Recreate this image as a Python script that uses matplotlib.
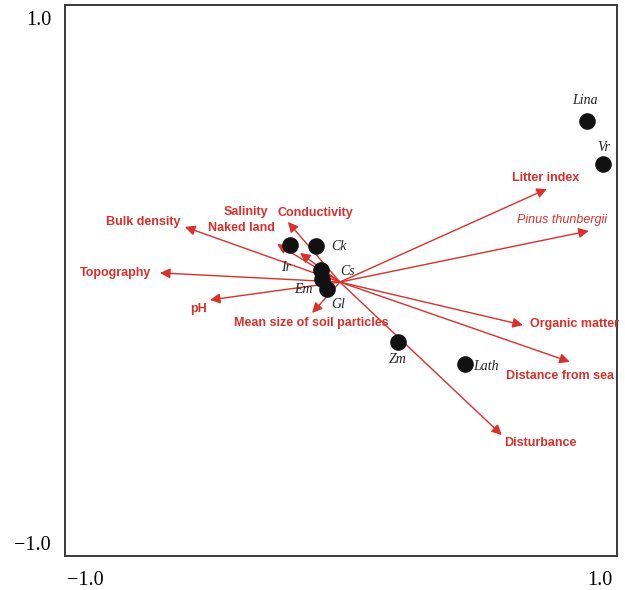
import matplotlib.pyplot as plt

# Environmental variables (arrow tips) and label positions
env_names = ['Litter index', 'Pinus thunbergii', 'Organic matter', 'Distance from sea',
             'Disturbance', 'Bulk density', 'Topography', 'pH',
             'Mean size of soil particles', 'Conductivity', 'Salinity', 'Naked land']
env_x = [0.794, 0.957, 0.701, 0.883, 0.619, -0.612, -0.709, -0.515, -0.118, -0.212, -0.254, -0.165]
env_y = [0.349, 0.189, -0.170, -0.310, -0.589, 0.204, 0.029, -0.074, -0.124, 0.223, 0.139, 0.105]
env_lab_x = [0.790, 0.852, 0.903, 0.845, 0.767, -0.775, -0.880, -0.561, -0.122, -0.107, -0.375, -0.394]
env_lab_y = [0.390, 0.230, -0.166, -0.364, -0.619, 0.223, 0.029, -0.109, -0.162, 0.257, 0.261, 0.200]
origin = (-0.010, -0.006)

# Species scores
sp_names = ['Lina', 'Vr', 'Ck', 'Ir', 'Cs', 'Em', 'Gl', 'Zm', 'Lath']
sp_x = [0.950, 1.012, -0.103, -0.204, -0.083, -0.080, -0.060, 0.216, 0.476]
sp_y = [0.608, 0.444, 0.131, 0.135, 0.040, 0.006, -0.032, -0.234, -0.318]
sp_lab_x = [0.942, 1.016, -0.012, -0.219, 0.020, -0.153, -0.017, 0.216, 0.556]
sp_lab_y = [0.684, 0.505, 0.128, 0.048, 0.036, -0.036, -0.093, -0.303, -0.326]

red = '#d9302c'

fig = plt.figure(figsize=(6.25, 5.9), dpi=100)
ax = fig.add_axes([0.104, 0.0576, 0.883, 0.934])

for i, name in enumerate(env_names):
    ax.annotate('', xy=(env_x[i], env_y[i]), xytext=origin,
                arrowprops=dict(arrowstyle='-|>', color=red, lw=1.0,
                                mutation_scale=15, shrinkA=0, shrinkB=0))
    if name == 'Pinus thunbergii':
        ax.text(env_lab_x[i], env_lab_y[i], name, color=red, fontsize=9,
                style='italic', family='Liberation Sans', ha='center', va='center')
    else:
        ax.text(env_lab_x[i], env_lab_y[i], name, color=red, fontsize=9,
                weight='bold', family='Liberation Sans', ha='center', va='center')

ax.scatter(sp_x, sp_y, s=120, color='#111111', zorder=3)
for i, name in enumerate(sp_names):
    ax.text(sp_lab_x[i], sp_lab_y[i], name, fontsize=10, style='italic',
            family='Liberation Serif', color='#222222', ha='center', va='center')

ax.set_xlim(-1.078, 1.066)
ax.set_ylim(-1.05, 1.05)
ax.set_xticks([-1.0, 1.0])
ax.set_yticks([-1.0, 1.0])
ax.set_xticklabels(['\u22121.0', '1.0'])
ax.set_yticklabels(['\u22121.0', '1.0'])
ax.tick_params(length=0, labelsize=14.5)
ax.tick_params(axis='x', pad=11)
ax.tick_params(axis='y', pad=10)
for lab in ax.get_xticklabels() + ax.get_yticklabels():
    lab.set_family('Liberation Serif')
for sp in ax.spines.values():
    sp.set_color('#3a3a3a')
    sp.set_linewidth(1.4)

fig.savefig('out.png', dpi=100)
